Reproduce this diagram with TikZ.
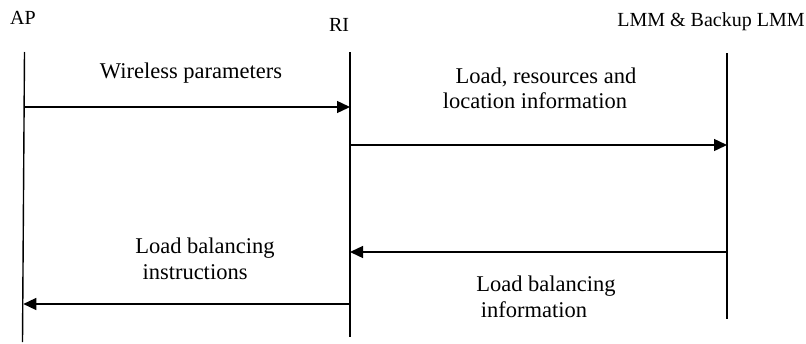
\documentclass[tikz,border=0pt]{standalone}
\usepackage{fontspec}
\setmainfont{Liberation Serif}
\usetikzlibrary{arrows.meta}
\begin{document}
\begin{tikzpicture}[x=1pt,y=-1pt,
  lifeline/.style={line width=1.4pt},
  msg/.style={line width=1.4pt,-{Triangle[length=13pt,width=12pt]}},
  hdr/.style={inner sep=0pt,anchor=base,font=\fontsize{20}{24}\selectfont},
  lbl/.style={inner sep=0pt,anchor=base,font=\fontsize{22.5}{26}\selectfont}]
\useasboundingbox (0,0) rectangle (806,343);
% headers
\node[hdr] (ap) at (23,24) {AP};
\node[hdr] (ri) at (339,31) {RI};
\node[hdr] (lmm) at (711,26) {LMM \& Backup LMM};
% lifelines
\coordinate (apT) at (24.5,52);
\coordinate (apB) at (22.5,342);
\coordinate (riT) at (350,52);
\coordinate (riB) at (350,337);
\coordinate (lmT) at (727,53);
\coordinate (lmB) at (727,319);
\draw[lifeline] (apT) -- (apB);
\draw[lifeline] (riT) -- (riB);
\draw[lifeline] (lmT) -- (lmB);
% message end points
\coordinate (m1a) at (24.2,107);
\coordinate (m1b) at (350,107);
\coordinate (m2a) at (350,145);
\coordinate (m2b) at (727,145);
\coordinate (m3a) at (727,252);
\coordinate (m3b) at (350,252);
\coordinate (m4a) at (350,304);
\coordinate (m4b) at (23.3,304);
\draw[msg] (m1a) -- (m1b);
\draw[msg] (m2a) -- (m2b);
\draw[msg] (m3a) -- (m3b);
\draw[msg] (m4a) -- (m4b);
% labels
\node[lbl] (l1) at (191,78) {Wireless parameters};
\node[lbl] (l2a) at (546,83) {Load, resources and};
\node[lbl] (l2b) at (535,108) {location information};
\node[lbl] (l3a) at (546,291) {Load balancing};
\node[lbl] (l3b) at (534,317) {information};
\node[lbl] (l4a) at (205,253) {Load balancing};
\node[lbl] (l4b) at (195,279) {instructions};
\end{tikzpicture}
\end{document}
